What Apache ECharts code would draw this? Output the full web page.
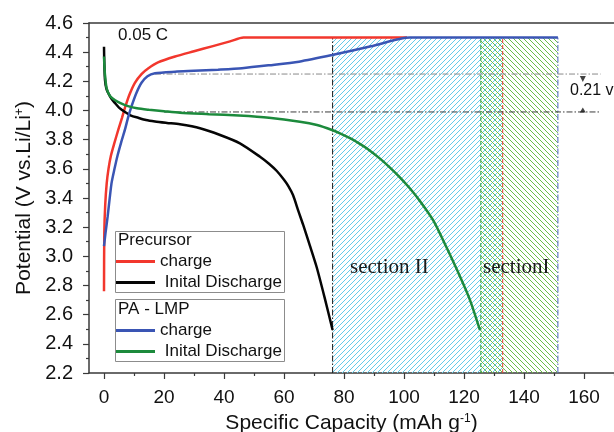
<!DOCTYPE html>
<html><head><meta charset="utf-8">
<script src="https://cdn.jsdelivr.net/npm/echarts@6/dist/echarts.min.js"></script>
<style>html,body{margin:0;padding:0;background:#fff}#c{width:614px;height:432px}</style>
</head><body><div id="c"></div>
<script>
// ---- data ----
const xTicks = [0, 20, 40, 60, 80, 100, 120, 140, 160];
const xMinorTicks = [10, 30, 50, 70, 90, 110, 130, 150, 170];

const precursorChargeCap = [0, 0.1, 0.4, 0.9, 1.5, 2.3, 3.5, 4.8, 6, 7, 8.5, 10.3, 12.5, 14.8, 18, 23.7, 30, 36, 42, 46.5, 70, 101];
const precursorChargeV   = [2.76, 3.16, 3.35, 3.50, 3.60, 3.69, 3.78, 3.87, 3.95, 4.02, 4.11, 4.19, 4.25, 4.29, 4.33, 4.37, 4.406, 4.44, 4.474, 4.5, 4.5, 4.5];

const precursorDischargeCap = [0, 0.1, 0.33, 0.8, 1.4, 2.5, 3.7, 5, 7, 9, 11.4, 14, 17, 21, 25.3, 32, 38.7, 45.3, 52, 55, 57.6, 60, 61.5, 63, 64.8, 66.4, 68.6, 70.9, 73.5, 76.2];
const precursorDischargeV   = [4.437, 4.33, 4.21, 4.15, 4.12, 4.08, 4.05, 4.02, 3.99, 3.965, 3.95, 3.935, 3.925, 3.915, 3.905, 3.878, 3.832, 3.775, 3.683, 3.635, 3.585, 3.525, 3.48, 3.42, 3.31, 3.215, 3.075, 2.925, 2.72, 2.495];

const lmpChargeCap = [0, 0.5, 1.2, 2.5, 3.5, 4.5, 5.7, 7, 8, 9.2, 10.8, 12.5, 14.5, 17, 23.7, 30, 38, 46, 55, 65, 76, 89, 102, 151.3];
const lmpChargeV   = [3.07, 3.16, 3.27, 3.50, 3.60, 3.69, 3.78, 3.87, 3.95, 4.03, 4.12, 4.19, 4.235, 4.255, 4.266, 4.272, 4.28, 4.29, 4.31, 4.335, 4.38, 4.44, 4.5, 4.5];

const lmpDischargeCap = [0, 0.15, 0.35, 0.9, 2, 3.7, 5.5, 8, 11, 15, 20, 25.3, 35, 45, 55, 65.3, 71, 76, 79, 82, 85, 88, 92, 95.5, 98.7, 102, 105.3, 109.8, 114.2, 118.7, 122, 125.3];
const lmpDischargeV   = [4.37, 4.30, 4.24, 4.15, 4.10, 4.07, 4.05, 4.03, 4.015, 4.005, 3.995, 3.985, 3.975, 3.965, 3.95, 3.923, 3.90, 3.866, 3.84, 3.81, 3.775, 3.735, 3.67, 3.605, 3.54, 3.465, 3.38, 3.245, 3.06, 2.86, 2.70, 2.495];

const sectionEdges = [76.2, 125.6, 132.9, 151.3]; // black, green, red, blue markers
const sectionV = [2.2, 4.5];
const refLevels = [4.25, 3.99];
const refLineCap = [[17, 165.5], [20, 165.5]];
const arrowCap = 159.6;
const arrowV = [4.216, 4.003];

const seriesNames = ['Precursor charge', 'Precursor Inital Discharge', 'PA - LMP charge', 'PA - LMP Inital Discharge'];
const legendLabels = { 'Precursor charge': 'charge', 'Precursor Inital Discharge': ' Inital Discharge', 'PA - LMP charge': 'charge', 'PA - LMP Inital Discharge': ' Inital Discharge' };

// ---- helpers ----
function pairs(xs, ys) { return xs.map((x, i) => [x, ys[i]]); }
function hatch(size, color, dir) {
  const c = document.createElement('canvas');
  c.width = size; c.height = size;
  const g = c.getContext('2d');
  g.clearRect(0, 0, size, size);
  g.strokeStyle = color; g.lineWidth = 1;
  g.beginPath();
  if (dir === '/') {
    g.moveTo(-1, size + 1); g.lineTo(size + 1, -1);
    g.moveTo(-1, 1); g.lineTo(1, -1);
    g.moveTo(size - 1, size + 1); g.lineTo(size + 1, size - 1);
  } else {
    g.moveTo(-1, -1); g.lineTo(size + 1, size + 1);
    g.moveTo(size - 1, -1); g.lineTo(size + 1, 1);
    g.moveTo(-1, size - 1); g.lineTo(1, size + 1);
  }
  g.stroke();
  return c;
}
const patterns = [hatch(5, '#62cbea', '/'), hatch(5, '#6cbd48', '\\')];
// [x from, x to, patternIndex]
const hatchAreas = [[sectionEdges[0], sectionEdges[2], 0], [sectionEdges[1], sectionEdges[3], 1]];

const FONT = 'Liberation Sans, Arial, sans-serif';
const AX = '#3a3a3a';

function vline(x, color, type) {
  return { type: 'line', data: [[x, sectionV[0]], [x, sectionV[1]]], symbol: 'none', silent: true, z: 3,
    lineStyle: { color: color, width: 1, type: type } };
}
const dashDot = [6, 2, 1.5, 2];

const chart = echarts.init(document.getElementById('c'), null, { renderer: 'canvas' });
const option = {
  animation: false,
  backgroundColor: '#fff',
  grid: { left: 89, right: 0, top: 23, bottom: 59, containLabel: false, outerBoundsMode: 'none' },
  xAxis: [
    { type: 'value', min: -5, max: 170, position: 'bottom',
      splitLine: { show: false },
      axisLine: { show: true, onZero: false, lineStyle: { color: AX, width: 1.5 } },
      axisTick: { show: true, inside: false, length: 6, customValues: xTicks, lineStyle: { color: AX, width: 1.2 } },
      axisLabel: { customValues: xTicks, margin: 15, fontSize: 19, color: '#111', fontFamily: FONT },
      name: '{a|Specific Capacity (mAh g}{b|-1}{a|)}', nameLocation: 'middle', nameGap: 40,
      nameTextStyle: { rich: { a: { fontSize: 21, color: '#111', fontFamily: FONT }, b: { fontSize: 12, color: '#111', fontFamily: FONT, verticalAlign: 'top' } } }
    },
    { type: 'value', min: -5, max: 170, position: 'top',
      splitLine: { show: false }, axisTick: { show: false }, axisLabel: { show: false },
      axisLine: { show: true, onZero: false, lineStyle: { color: AX, width: 1.5 } } },
    { type: 'value', min: -5, max: 170, position: 'bottom',
      splitLine: { show: false }, axisLine: { show: false, onZero: false },
      axisTick: { show: true, length: 3, customValues: xMinorTicks, lineStyle: { color: AX, width: 1.2 } },
      axisLabel: { show: false } }
  ],
  yAxis: {
    type: 'value', min: 2.2, max: 4.6, interval: 0.2,
    splitLine: { show: false },
    axisLine: { show: true, onZero: false, lineStyle: { color: AX, width: 1.5 } },
    axisTick: { show: true, inside: false, length: 6, lineStyle: { color: AX, width: 1.2 } },
    minorTick: { show: true, splitNumber: 2, length: 3, lineStyle: { color: AX, width: 1.2 } },
    axisLabel: { margin: 16, fontSize: 20, color: '#111', fontFamily: FONT, formatter: v => v.toFixed(1) },
    name: '{a|Potential (V vs.Li/Li}{b|+}{a|)}', nameLocation: 'middle', nameGap: 45, nameRotate: 90,
    nameTextStyle: { rich: { a: { fontSize: 21, color: '#111', fontFamily: FONT }, b: { fontSize: 12, color: '#111', fontFamily: FONT, verticalAlign: 'top' } } }
  },
  legend: [
    { left: 116, top: 253, orient: 'vertical', itemWidth: 39, itemHeight: 3, itemGap: 4, icon: 'rect', padding: 0, z: 10,
      selectedMode: false, data: [seriesNames[0], seriesNames[1]], formatter: n => legendLabels[n],
      textStyle: { fontSize: 17, color: '#111', fontFamily: FONT } },
    { left: 116, top: 322, orient: 'vertical', itemWidth: 39, itemHeight: 3, itemGap: 4, icon: 'rect', padding: 0, z: 10,
      selectedMode: false, data: [seriesNames[2], seriesNames[3]], formatter: n => legendLabels[n],
      textStyle: { fontSize: 17, color: '#111', fontFamily: FONT } }
  ],
  graphic: [
    { type: 'rect', z: 5, shape: { x: 115.5, y: 231.5, width: 169, height: 61 }, style: { fill: '#fff', stroke: '#8c8c8c', lineWidth: 1 } },
    { type: 'rect', z: 5, shape: { x: 115.5, y: 299.5, width: 169, height: 62 }, style: { fill: '#fff', stroke: '#8c8c8c', lineWidth: 1 } },
    { type: 'text', z: 11, left: 118, top: 232, style: { text: 'Precursor', font: '17px ' + FONT, fill: '#111' } },
    { type: 'text', z: 11, left: 118, top: 301, style: { text: 'PA - LMP', font: '17px ' + FONT, fill: '#111' } },
    { type: 'text', z: 11, left: 118, top: 27, style: { text: '0.05 C', font: '17px ' + FONT, fill: '#111' } },
    { type: 'text', z: 11, left: 350, top: 257, style: { text: 'section II', font: '21px Liberation Serif, Times New Roman, serif', fill: '#1a1a1a' } },
    { type: 'text', z: 11, left: 483, top: 257, style: { text: 'sectionI', font: '21px Liberation Serif, Times New Roman, serif', fill: '#1a1a1a' } },
    { type: 'text', z: 11, left: 570, top: 83, style: { text: '0.21 v', font: '16px ' + FONT, fill: '#111' } }
  ],
  series: [
    { type: 'custom', silent: true, z: 1, data: hatchAreas,
      renderItem: function (params, api) {
        const p1 = api.coord([api.value(0), sectionV[1]]);
        const p2 = api.coord([api.value(1), sectionV[0]]);
        return { type: 'rect', shape: { x: p1[0], y: p1[1], width: p2[0] - p1[0], height: p2[1] - p1[1] },
          style: { fill: { image: patterns[api.value(2)], repeat: 'repeat' } } };
      } },
    vline(sectionEdges[0], '#1a1a1a', dashDot),
    vline(sectionEdges[1], '#2f9e3e', [4, 2]),
    vline(sectionEdges[2], '#ee3a30', [4, 2]),
    vline(sectionEdges[3], '#4a62c2', dashDot),
    { type: 'line', symbol: 'none', silent: true, z: 3, data: [[refLineCap[0][0], refLevels[0]], [refLineCap[0][1], refLevels[0]]],
      lineStyle: { color: '#8a8a8a', width: 1, type: dashDot } },
    { type: 'line', symbol: 'none', silent: true, z: 3, data: [[refLineCap[1][0], refLevels[1]], [refLineCap[1][1], refLevels[1]]],
      lineStyle: { color: '#3c3c3c', width: 1, type: dashDot } },
    { type: 'scatter', silent: true, z: 4, symbol: 'triangle', symbolSize: [6, 6], symbolRotate: 180,
      data: [[arrowCap, arrowV[0]]], itemStyle: { color: '#111' } },
    { type: 'scatter', silent: true, z: 4, symbol: 'triangle', symbolSize: [6, 5],
      data: [[arrowCap, arrowV[1]]], itemStyle: { color: '#111' } },
    { name: seriesNames[0], type: 'line', symbol: 'none', smooth: 0.25, z: 6, data: pairs(precursorChargeCap, precursorChargeV),
      lineStyle: { color: '#f2372d', width: 2.5 }, itemStyle: { color: '#f2372d' } },
    { name: seriesNames[1], type: 'line', symbol: 'none', smooth: 0.25, z: 6, data: pairs(precursorDischargeCap, precursorDischargeV),
      lineStyle: { color: '#050505', width: 2.5 }, itemStyle: { color: '#050505' } },
    { name: seriesNames[2], type: 'line', symbol: 'none', smooth: 0.25, z: 6, data: pairs(lmpChargeCap, lmpChargeV),
      lineStyle: { color: '#3a55b4', width: 2.5 }, itemStyle: { color: '#3a55b4' } },
    { name: seriesNames[3], type: 'line', symbol: 'none', smooth: 0.25, z: 6, data: pairs(lmpDischargeCap, lmpDischargeV),
      lineStyle: { color: '#1c8a3c', width: 2.5 }, itemStyle: { color: '#1c8a3c' } }
  ]
};
chart.setOption(option);
</script>
</body></html>
